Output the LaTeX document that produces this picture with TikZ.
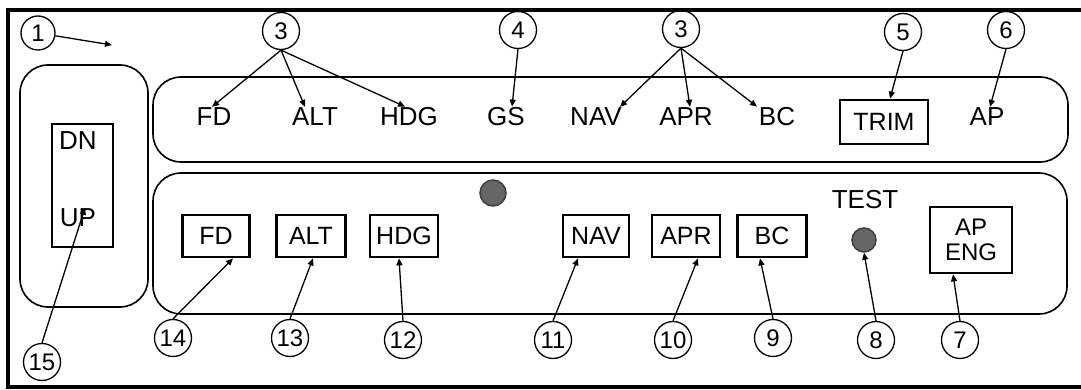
\documentclass[tikz,border=0pt]{standalone}
\usepackage{fontspec}
\setmainfont{Liberation Sans}
\usetikzlibrary{arrows.meta, positioning}

\begin{document}
\begin{tikzpicture}[
  x=1pt, y=-1pt,
  lbl/.style={font=\fontsize{26}{28}\selectfont, inner sep=1pt},
  btn/.style={draw, line width=2.8pt, font=\fontsize{25}{27}\selectfont,
              minimum height=42pt, inner sep=2pt},
  callout/.style={draw, circle, line width=1.3pt, minimum size=37pt, inner sep=0pt,
                  font=\fontsize{24}{26}\selectfont},
  panel/.style={draw, line width=1.6pt, rounded corners=28pt},
  lamp/.style={circle, draw=black!75, line width=1.5pt, fill=black!60, minimum size=#1, inner sep=0pt},
  arr/.style={-{Triangle[length=7pt, width=6pt]}, line width=1.3pt}
]
  \useasboundingbox (0,0) rectangle (1081,390);
  \draw[line width=3.2pt] (1081,10) -- (8,10) -- (8,387) -- (1081,387);

  \draw[panel] (20,65) rectangle (148,307);
  \draw[line width=1.4pt] (52,124) rectangle (113,247);
  \node[lbl] (dn) at (78,141) {DN};
  \node[lbl] (up) at (78,218) {UP};

  \draw[panel] (153,77) rectangle (1068,162);
  \draw[panel] (153,173) rectangle (1067,314);

  \node[lbl] (fdT)  at (214,117) {FD};
  \node[lbl] (altT) at (315,117) {ALT};
  \node[lbl] (hdgT) at (409,117) {HDG};
  \node[lbl] (gsT)  at (506,117) {GS};
  \node[lbl] (navT) at (596,117) {NAV};
  \node[lbl] (aprT) at (686,117) {APR};
  \node[lbl] (bcT)  at (777,117) {BC};
  \node[btn, minimum width=88pt, minimum height=44pt] (trim) at (884,122) {TRIM};
  \node[lbl] (apT)  at (987,117) {AP};

  \node[lamp=26pt] (gsLamp) at (493,193) {};
  \node[btn, minimum width=67pt] (fdB)  at (216,236) {FD};
  \node[btn, minimum width=69pt] (altB) at (311,236) {ALT};
  \node[btn, minimum width=68pt] (hdgB) at (404,236) {HDG};
  \node[btn, minimum width=66pt] (navB) at (596,236) {NAV};
  \node[btn, minimum width=68pt] (aprB) at (686,236) {APR};
  \node[btn, minimum width=69pt] (bcB)  at (772,236) {BC};
  \node[lbl] (test) at (865,200) {TEST};
  \node[lamp=24pt] (testLamp) at (864,240) {};
  \node[btn, minimum width=82pt, minimum height=66pt, align=center,
        font=\fontsize{24}{25}\selectfont] (apEng) at (971,240) {AP\\ENG};

  \node[callout, minimum size=34pt] (c1) at (38,33) {1};
  \node[callout] (c3a) at (281,31) {3};
  \node[callout] (c4)  at (518,30) {4};
  \node[callout] (c3b) at (681,29) {3};
  \node[callout] (c5)  at (903,32) {5};
  \node[callout] (c6)  at (1006,30) {6};
  \coordinate (p1) at (112,45);

  \node[callout] (c15) at (42,362) {15};
  \node[callout] (c14) at (173,338) {14};
  \node[callout] (c13) at (290,338) {13};
  \node[callout] (c12) at (403,340) {12};
  \node[callout] (c11) at (553,340) {11};
  \node[callout] (c10) at (673,340) {10};
  \node[callout] (c9)  at (773,338) {9};
  \node[callout] (c8)  at (876,340) {8};
  \node[callout] (c7)  at (960,340) {7};

  \draw[arr] (c1) -- (p1);
  \draw[arr] (c3a.south) -- ([xshift=-2pt]fdT.north);
  \draw[arr] (c3a.south) -- ([xshift=-10pt]altT.north);
  \draw[arr] (c3a.south) -- ([xshift=-4pt]hdgT.north);
  \draw[arr] (c4.south) -- ([xshift=6pt]gsT.north);
  \draw[arr] (c3b.south) -- ([xshift=24pt]navT.north);
  \draw[arr] (c3b.south) -- ([xshift=4pt]aprT.north);
  \draw[arr] (c3b.south) -- ([xshift=-20pt]bcT.north);
  \draw[arr] (c5.south) -- ([xshift=6pt]trim.north);
  \draw[arr] (c6.south) -- ([xshift=3pt]apT.north);

  \draw[arr] (c15.north) -- ([xshift=7pt]up.north);
  \draw[arr] (c14.north) -- ([xshift=17pt]fdB.south);
  \draw[arr] (c13.north) -- ([xshift=2pt]altB.south);
  \draw[arr] (c12.north) -- ([xshift=-5pt]hdgB.south);
  \draw[arr] (c11.north) -- ([xshift=-18pt]navB.south);
  \draw[arr] (c10.north) -- ([xshift=12pt]aprB.south);
  \draw[arr] (c9.north) -- ([xshift=-12pt]bcB.south);
  \draw[arr] (c8.north) -- (testLamp.south);
  \draw[arr] (c7.north) -- ([xshift=-18pt]apEng.south);
\end{tikzpicture}
\end{document}
